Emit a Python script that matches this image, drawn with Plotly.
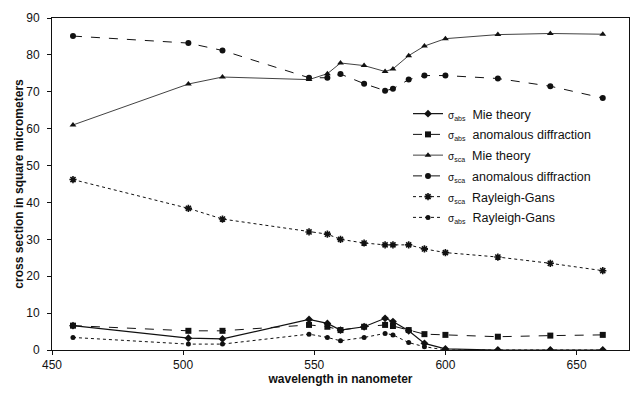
import plotly.graph_objects as go

wavelength = [458, 502, 515, 548, 555, 560, 569, 577, 580, 586, 592, 600, 620, 640, 660]

abs_mie = [6.6, 3.2, 3.0, 8.3, 7.2, 5.4, 6.3, 8.6, 7.7, 5.2, 1.8, 0.3, 0.0, 0.0, 0.0]
abs_ad = [6.6, 5.2, 5.2, 6.8, 6.3, 5.4, 6.3, 6.8, 6.5, 5.4, 4.3, 4.1, 3.6, 3.9, 4.1]
sca_mie = [61.0, 72.1, 74.0, 73.3, 74.9, 77.8, 77.1, 75.5, 76.2, 79.8, 82.4, 84.4, 85.5, 85.8, 85.6]
sca_ad = [85.1, 83.2, 81.2, 73.8, 73.8, 74.8, 72.2, 70.3, 70.8, 73.3, 74.4, 74.4, 73.6, 71.5, 68.3]
sca_rg = [46.2, 38.4, 35.5, 32.0, 31.4, 30.0, 29.0, 28.5, 28.5, 28.5, 27.4, 26.4, 25.2, 23.5, 21.5]
abs_rg = [3.4, 1.6, 1.6, 4.3, 3.4, 2.5, 3.4, 4.5, 4.1, 2.0, 0.9, 0.0, 0.0, 0.0, 0.0]

x_ticks = [450, 500, 550, 600, 650]
y_ticks = [0, 10, 20, 30, 40, 50, 60, 70, 80, 90]


def label(sub, text):
    return ("<span style='font-size:10px'>σ<sub>" + sub + "</sub></span>"
            "\u00a0\u00a0" + text)


series = [
    (abs_mie, label("abs", "Mie theory"), "solid", "diamond", 6, 1.2),
    (abs_ad, label("abs", "anomalous diffraction"), "dash", "square", 6, 1.0),
    (sca_mie, label("sca", "Mie theory"), "solid", "triangle-up", 6, 0.8),
    (sca_ad, label("sca", "anomalous diffraction"), "dash", "circle", 6, 1.0),
    (sca_rg, label("sca", "Rayleigh-Gans"), "dot", "asterisk-open", 6, 1.0),
    (abs_rg, label("abs", "Rayleigh-Gans"), "dot", "circle", 5, 1.0),
]

fig = go.Figure()
for i, (ys, name, dash, sym, size, lw) in enumerate(series):
    marker = dict(symbol=sym, size=size, color="#111111")
    if sym.endswith("open"):
        marker["line"] = dict(color="#111111", width=1.6)
    fig.add_trace(go.Scatter(
        x=wavelength, y=ys, name=name, mode="lines+markers",
        legendgroup="g%d" % i,
        line=dict(color="#111111", width=lw, dash=dash),
        marker=marker,
    ))

font_family = "Liberation Sans, Arial, sans-serif"

fig.update_layout(
    width=637, height=394,
    margin=dict(l=52, r=8, t=18, b=44),
    paper_bgcolor="white", plot_bgcolor="white",
    font=dict(family=font_family, size=12, color="#111111"),
    showlegend=True,
    legend=dict(
        x=0.617, y=0.756, xanchor="left", yanchor="top",
        bgcolor="rgba(255,255,255,0)", borderwidth=0,
        font=dict(size=12.5, color="#111111"),
        itemwidth=30, tracegroupgap=1.5,
    ),
    xaxis=dict(
        range=[450, 670], tickvals=x_ticks, ticktext=[str(v) for v in x_ticks],
        showgrid=False, zeroline=False, automargin=False,
        showline=True, linecolor="#111111", linewidth=1, mirror=True,
        ticks="outside", ticklen=4, tickcolor="#111111",
        tickfont=dict(size=12),
        title=dict(text="<b>wavelength in nanometer</b>", font=dict(size=12), standoff=3),
    ),
    yaxis=dict(
        range=[0, 90], tickvals=y_ticks,
        showgrid=False, zeroline=False, automargin=False,
        showline=True, linecolor="#111111", linewidth=1, mirror=True,
        ticks="outside", ticklen=4, tickcolor="#111111",
        ticklabelstandoff=5,
        tickfont=dict(size=12),
        title=dict(text="<b>cross section in square micrometers</b>", font=dict(size=12), standoff=0),
    ),
)

fig.write_html("out.html", config={"displayModeBar": False},
               post_script="document.body.style.margin='0';")
